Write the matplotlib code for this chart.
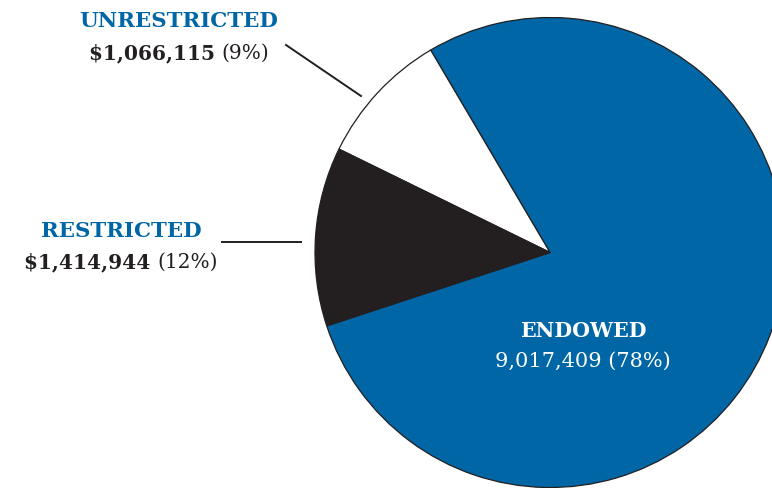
import matplotlib
matplotlib.use("Agg")
import matplotlib.pyplot as plt

# data
labels = ["ENDOWED", "UNRESTRICTED", "RESTRICTED"]
values = [9017409, 1066115, 1414944]
amount_text = ["9,017,409", "$1,066,115", "$1,414,944"]
colors = ["#0066a6", "#ffffff", "#231f20"]

W, H = 772, 489
fig = plt.figure(figsize=(W / 100, H / 100), dpi=100)
ax = fig.add_axes([0, 0, 1, 1])

# pie centre / radius in pixel coords (y measured from bottom)
cx, cy, r = 550, H - 253.5, 235
ax.pie(values, colors=colors, startangle=198.2, counterclock=True,
       center=(cx, cy), radius=r, frame=True,
       wedgeprops=dict(edgecolor="#231f20", linewidth=0.9))
ax.set_xlim(0, W)
ax.set_ylim(0, H)
ax.set_aspect("equal")
ax.axis("off")

total = sum(values)
pcts = [f"({round(v / total * 100)}%)" for v in values]

fig.canvas.draw()
rend = fig.canvas.get_renderer()
FONT = ["DejaVu Serif"]


def mixed_line(xc, y, parts, size=14.5):
    # parts: list of (text, weight, color), centred on xc, y is baseline
    objs = []
    for txt, wt, col in parts:
        t = ax.text(0, y, txt, fontsize=size, fontweight=wt, color=col,
                    family=FONT, ha="left", va="baseline")
        objs.append(t)
    widths = [t.get_window_extent(rend).width for t in objs]
    x = xc - sum(widths) / 2
    for t, w in zip(objs, widths):
        t.set_x(x)
        x += w


blue = "#0066a6"
dark = "#231f20"

# UNRESTRICTED
mixed_line(179, H - 27, [(labels[1], "bold", blue)], size=15.4)
mixed_line(179, H - 59, [(amount_text[1] + " ", "bold", dark), (pcts[1], "normal", dark)])
ax.plot([286, 361], [H - 46, H - 97], color=dark, lw=1.4)

# RESTRICTED
mixed_line(121, H - 237, [(labels[2], "bold", blue)], size=15.4)
mixed_line(121, H - 268, [(amount_text[2] + " ", "bold", dark), (pcts[2], "normal", dark)])
ax.plot([222, 301], [H - 243, H - 243], color=dark, lw=1.4)

# ENDOWED
mixed_line(583, H - 337, [(labels[0], "bold", "white")], size=14.8)
mixed_line(583, H - 367, [(amount_text[0] + " " + pcts[0], "normal", "white")], size=15)

fig.savefig("out.png", dpi=100)
